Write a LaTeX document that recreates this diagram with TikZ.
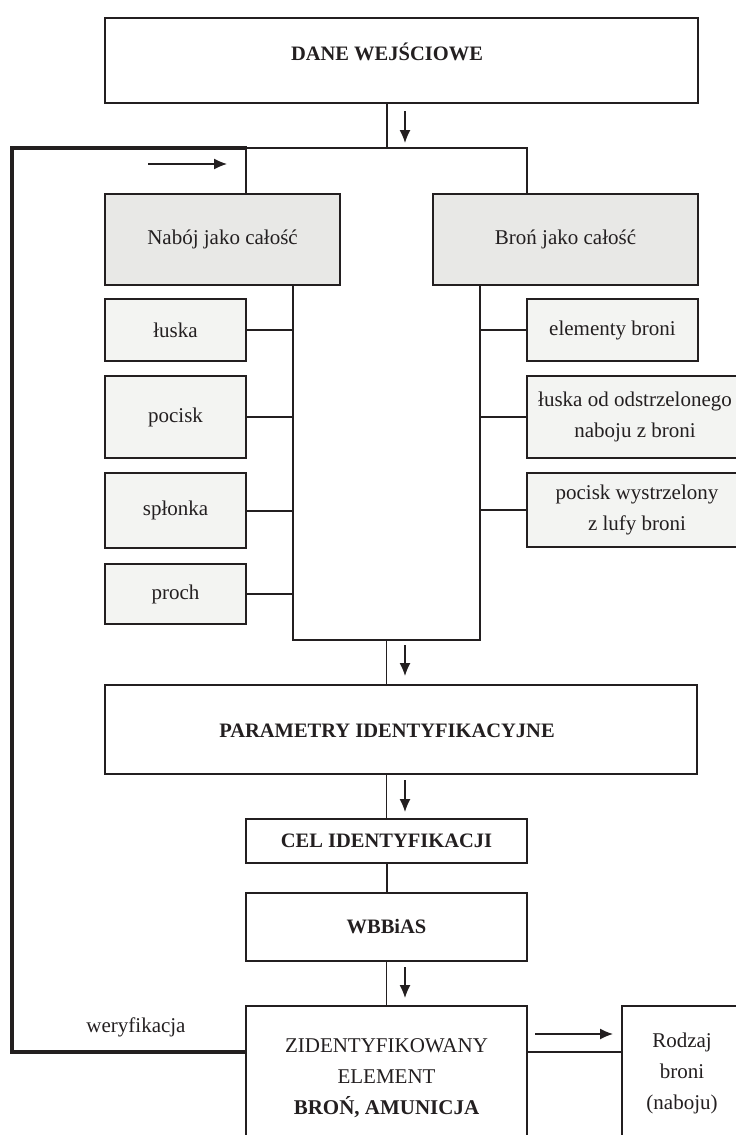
\documentclass[tikz,border=0pt]{standalone}
\usepackage{fontspec}
\setmainfont{Liberation Serif}
\usetikzlibrary{arrows.meta}
\definecolor{ink}{HTML}{231F20}
\definecolor{fillA}{HTML}{E8E8E6}
\definecolor{fillB}{HTML}{F3F4F2}
\begin{document}
\begin{tikzpicture}[x=1pt,y=-1pt,
  lbl/.style={font=\fontsize{21}{31}\selectfont, text=ink, align=center},
  blbl/.style={font=\fontsize{20.5}{31}\selectfont\bfseries, text=ink, align=center},
  box/.style={draw=ink, line width=2pt, inner sep=0pt, outer sep=0pt, align=center,
              font=\fontsize{21}{31}\selectfont, text=ink},
  gbox/.style={box, fill=fillA},
  sbox/.style={box, fill=fillB},
  conn/.style={draw=ink, line width=2pt},
  thinconn/.style={draw=ink, line width=1pt},
  loopline/.style={draw=ink, line width=4.2pt},
  arr/.style={draw=ink, line width=1.3pt, -{Latex[length=13pt,width=11pt]}}
]
\useasboundingbox (0,0) rectangle (736,1135);
\clip (0,0) rectangle (736,1135);
\fill[white] (0,0) rectangle (736,1135);

% boxes
\node[box, minimum width=593pt, minimum height=85pt] (topbox) at (401.5,60.5) {};
\node[blbl, anchor=base] (toptext) at (387,60) {DANE WEJŚCIOWE};

\node[gbox, minimum width=235pt, minimum height=91pt] (nab) at (222.5,239.5) {Nabój jako całość};
\node[gbox, minimum width=265pt, minimum height=91pt] (bron) at (565.5,239.5) {Broń jako całość};

\node[sbox, minimum width=141pt, minimum height=62pt] (luska) at (175.5,330) {łuska};
\node[sbox, minimum width=141pt, minimum height=82pt] (pocisk) at (175.5,417) {pocisk};
\node[sbox, minimum width=141pt, minimum height=75pt] (splonka) at (175.5,510.5) {spłonka};
\node[sbox, minimum width=141pt, minimum height=60pt] (proch) at (175.5,594) {proch};

\node[sbox, minimum width=171pt, minimum height=62pt] (elem) at (612.5,330) {elementy broni};
\node[sbox, minimum width=216pt, minimum height=82pt] (lusk2) at (635,417) {łuska od odstrzelonego\\naboju z broni};
\node[sbox, minimum width=220pt, minimum height=74pt] (pocw) at (637,510) {pocisk wystrzelony\\z lufy broni};

\node[box, minimum width=592pt, minimum height=89pt] (param) at (401,729.5) {};
\node[blbl] (paramtext) at (387,731) {PARAMETRY IDENTYFIKACYJNE};

\node[box, minimum width=281pt, minimum height=44pt, font=\fontsize{20.5}{31}\selectfont\bfseries] (cel) at (386.5,841) {CEL IDENTYFIKACJI};
\node[box, minimum width=281pt, minimum height=68pt, font=\fontsize{20.5}{31}\selectfont\bfseries] (wbb) at (386.5,927) {WBBiAS};
\node[box, minimum width=281pt, minimum height=144pt] (zid) at (386.5,1078) {ZIDENTYFIKOWANY\\ELEMENT\\\textbf{BROŃ, AMUNICJA}};
\node[box, minimum width=120pt, minimum height=134pt] (rod) at (682,1073) {Rodzaj\\broni\\(naboju)};

\node[lbl] (wer) at (136,1027) {weryfikacja};

% junction coordinates
\coordinate (jt) at (387,148);
\coordinate (jl) at (246,148);
\coordinate (jr) at (527,148);
\coordinate (sl) at (293,640);
\coordinate (sr) at (480,640);
\coordinate (jb) at (386,640);
\coordinate (lp) at (12,1052);
\coordinate (lt) at (12,148);

% connectors
\draw[conn] (topbox.south -| jt) -- (jt);
\draw[conn] (nab.north -| jl) -- (jl) -- (jr) -- (bron.north -| jr);
\draw[conn] (nab.south -| sl) -- (sl) -- (sr) -- (bron.south -| sr);
\draw[conn] (luska.east) -- (luska.east -| sl);
\draw[conn] (pocisk.east) -- (pocisk.east -| sl);
\draw[conn] (splonka.east) -- (splonka.east -| sl);
\draw[conn] (proch.east) -- (proch.east -| sl);
\draw[conn] (elem.west) -- (elem.west -| sr);
\draw[conn] (lusk2.west) -- (lusk2.west -| sr);
\draw[conn] (pocw.west) -- (pocw.west -| sr);
\draw[thinconn] (jb) -- (param.north -| jb);
\draw[thinconn] (param.south -| jb) -- (cel.north -| jb);
\draw[conn] (cel.south) -- (wbb.north);
\draw[thinconn] (wbb.south) -- (zid.north);
\draw[loopline] (zid.west |- lp) -- (lp) -- (lt) -- ([xshift=1pt]jl);
\draw[conn] (zid.east |- lp) -- (rod.west |- lp);

% free arrows
\coordinate (a1s) at (405,111); \coordinate (a1e) at (405,143);
\coordinate (a2s) at (405,645); \coordinate (a2e) at (405,676);
\coordinate (a3s) at (405,780); \coordinate (a3e) at (405,812);
\coordinate (a4s) at (405,967); \coordinate (a4e) at (405,998);
\coordinate (h1s) at (148,164); \coordinate (h1e) at (227,164);
\coordinate (h2s) at (535,1034); \coordinate (h2e) at (613,1034);
\draw[arr] (a1s) -- (a1e);
\draw[arr] (a2s) -- (a2e);
\draw[arr] (a3s) -- (a3e);
\draw[arr] (a4s) -- (a4e);
\draw[arr] (h1s) -- (h1e);
\draw[arr] (h2s) -- (h2e);
\end{tikzpicture}
\end{document}
